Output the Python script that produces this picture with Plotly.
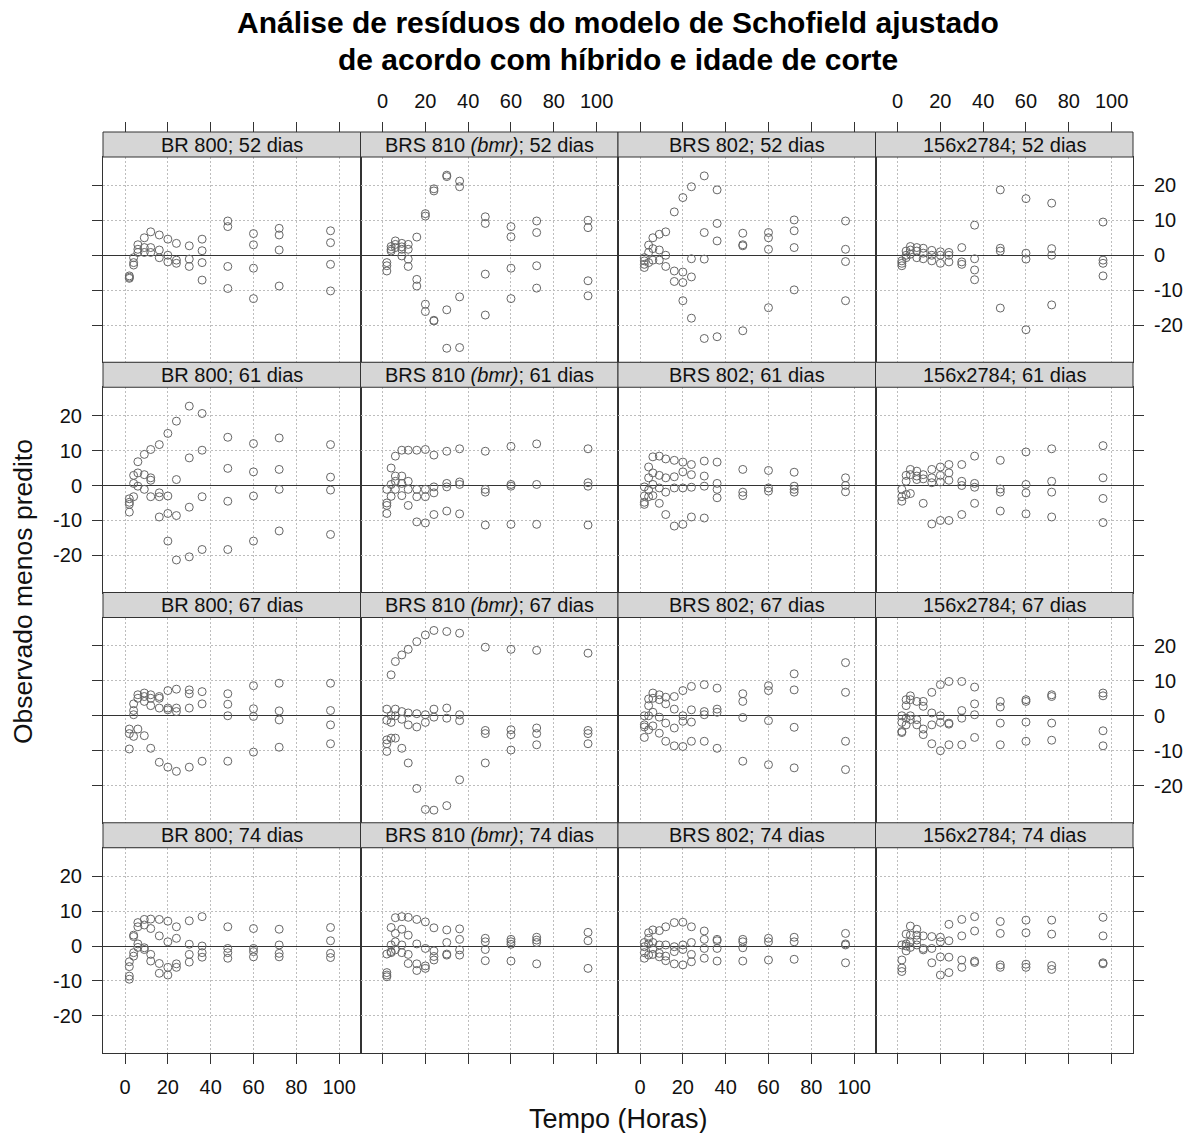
import plotly.graph_objects as go

# ---------------- data ----------------
times = [2, 4, 6, 9, 12, 16, 20, 24, 30, 36, 48, 60, 72, 96]
hybrids = ["BR 800", "BRS 810 <i>(bmr)</i>", "BRS 802", "156x2784"]
ages = [52, 61, 67, 74]
x_ticks = [0, 20, 40, 60, 80, 100]
y_ticks = [-20, -10, 0, 10, 20]

# residuals per time (one inner list per time in `times`)
br800_52 = [[-5.9, -6.3, -6.6], [-0.7, -2.1, -2.8], [3.0, 1.7, 0.8], [5.0, 2.2, 0.8],
            [6.7, 2.2, 0.8], [5.8, 1.5, -0.7], [4.6, 0.0, -1.9], [3.4, -1.4, -2.3],
            [2.7, -1.1, -3.2], [4.6, 1.3, -2.1, -7.1], [9.8, 8.2, -3.2, -9.5],
            [6.2, 3.0, -3.7, -12.4], [7.7, 5.8, 1.5, -8.8], [7.0, 3.6, -2.6, -10.2]]
brs810_52 = [[-2.1, -3.0, -4.5], [2.5, 1.7, 1.2], [4.1, 3.1, 2.2], [3.4, 2.4, 1.7, -0.2],
             [3.1, 1.7, -1.1, -3.2], [5.2, -6.9, -8.8], [11.9, 11.2, -14.0, -16.1],
             [19.0, 18.4, -18.6, -18.8], [22.9, 22.5, -15.6, -26.6], [21.2, 19.6, -11.9, -26.4],
             [11.0, 9.1, -5.4, -17.1], [8.2, 5.3, -3.7, -12.4], [9.8, 6.5, -3.0, -9.4],
             [10.0, 7.9, -7.3, -11.6]]
brs802_52 = [[-0.7, -1.6, -2.6, -3.5], [2.9, 0.8, -2.1], [5.0, 1.9, -1.4], [6.0, 1.5, -1.4],
             [6.7, 0.0, -3.2], [12.4, -4.5, -7.5], [16.5, -4.8, -7.8, -13.0],
             [19.6, -1.0, -6.2, -18.0], [22.7, 6.5, -1.1, -23.8], [18.7, 9.1, 4.1, -23.3],
             [6.3, 3.0, 2.7, -21.6], [6.5, 5.0, 1.7, -15.0], [10.1, 7.0, 2.2, -9.9],
             [9.8, 1.7, -1.8, -13.0]]
h156_52 = [[-1.6, -2.3, -3.0], [1.2, 0.0, -0.7], [2.5, 1.5, 0.3], [2.2, 1.2, -0.7],
           [2.0, 0.6, -1.0], [1.4, 0.0, -1.6], [1.0, 0.0, -2.3], [0.8, 0.0, -1.9],
           [2.2, -1.9, -2.6], [8.6, -1.0, -4.2, -7.0], [18.7, 2.0, 1.2, -15.1],
           [16.2, 0.6, -1.1, -21.3], [14.9, 1.9, 0.0, -14.2], [9.5, -1.4, -2.3, -5.9]]

br800_61 = [[-3.8, -4.8, -5.4, -7.6], [2.9, 0.6, -3.2], [6.8, 3.6, -0.2], [8.9, 3.1, -1.1],
            [10.3, 2.2, 1.5, -3.2], [11.7, -2.1, -3.2, -9.0], [14.9, -3.0, -8.0, -15.9],
            [18.4, 1.7, -8.6, -21.3], [22.7, 7.9, -6.2, -20.4], [20.6, 10.1, -3.2, -18.3],
            [13.8, 4.9, -4.5, -18.3], [12.0, 3.9, -3.0, -15.9], [13.6, 4.6, -1.1, -13.0],
            [11.7, 2.4, -1.3, -14.0]]
brs810_61 = [[-1.1, -5.0, -5.7, -8.0], [5.0, 0.3, -3.1], [8.4, 2.7, 1.2, -1.1],
             [10.1, 2.7, 0.6, -2.9], [10.1, 1.2, -1.1, -5.7], [10.1, -1.1, -3.2, -10.4],
             [10.3, -1.1, -3.2, -10.7], [8.7, -0.4, -2.1, -8.3], [9.8, 0.6, -0.4, -7.3],
             [10.5, 1.0, 0.3, -8.1], [9.8, -1.1, -1.9, -11.3], [11.2, 0.3, -0.2, -11.1],
             [11.9, 0.3, -11.1], [10.5, 0.8, -0.2, -11.3]]
brs802_61 = [[-0.4, -3.0, -4.8, -5.4], [5.3, 2.2, -1.3, -3.2], [8.2, 3.6, 0.3, -2.9],
             [8.4, 2.9, -0.7, -5.1], [7.6, 2.2, -1.9, -8.3], [7.2, 2.5, -0.7, -11.6],
             [6.7, 3.9, -0.7, -11.1], [6.0, 3.1, -0.5, -9.0], [7.0, 2.7, -0.2, -9.3],
             [6.7, 0.6, -1.1, -3.5], [4.6, -1.9, -2.9], [4.3, -0.7, -1.6],
             [3.8, -0.2, -1.1, -1.9], [2.2, 0.0, -1.8]]
h156_61 = [[-1.1, -3.2, -4.5], [2.9, 1.2, -2.6], [4.6, 3.1, -2.3], [4.1, 2.7, 1.7],
           [3.1, 1.9, -5.1], [4.6, 2.2, 0.8, -11.0], [5.3, 2.9, 1.0, -10.0],
           [6.0, 3.6, 1.5, -10.0], [6.0, 1.2, 0.0, -8.3], [8.4, 0.6, -0.5, -5.1],
           [7.2, -1.0, -1.9, -7.3], [9.6, 0.3, -2.1, -8.1], [10.5, 1.2, -1.9, -9.0],
           [11.4, 2.2, -3.7, -10.6]]

br800_67 = [[-3.8, -5.1, -9.5], [3.4, 1.5, 0.3, -5.9], [6.0, 5.0, -3.8], [6.5, 5.5, 4.1, -5.7],
            [6.0, 5.0, 2.9, -9.3], [5.5, 5.0, 2.2, -13.3], [7.2, 2.2, 1.7, -14.7],
            [7.6, 2.2, 1.2, -15.9], [7.4, 6.3, 2.2, -14.7], [6.9, 3.4, -13.0],
            [6.3, 3.3, 0.0, -13.0], [8.6, 2.0, -0.2, -10.4], [9.3, 1.4, -1.2, -9.0],
            [9.3, 1.5, -2.6, -8.0]]
brs810_67 = [[1.9, -1.3, -6.9, -8.0, -10.2], [11.7, 0.0, -1.9, -6.4], [15.5, 1.9, 0.0, -6.4],
             [17.4, 1.2, -1.0, -9.3], [19.0, 0.8, -2.6, -13.5], [21.2, 0.6, -3.2, -20.8],
             [23.1, 0.3, -1.9, -26.8], [24.4, 1.9, -0.4, -27.0], [24.1, 2.2, -0.7, -25.7],
             [23.6, 0.3, -1.4, -18.3], [19.6, -4.2, -5.1, -13.5], [19.0, -4.0, -5.4, -9.8],
             [18.7, -3.5, -5.1, -8.3], [17.9, -4.2, -5.1, -8.0]]
brs802_67 = [[0.0, -2.6, -3.2, -6.2], [4.8, 2.9, 0.0, -4.0], [6.5, 5.0, 1.0, -2.9],
             [6.0, 4.6, -0.4, -5.0], [5.3, 3.4, -2.1, -7.3], [5.5, 1.9, -3.5, -8.6],
             [7.2, 0.0, -1.6, -8.8], [8.4, 1.7, -1.8, -7.3], [8.9, 1.2, 0.3, -7.3],
             [7.9, 1.9, 1.0, -9.3], [6.3, 4.1, -0.5, -13.0], [8.6, 7.2, -1.4, -14.0],
             [12.0, 7.4, -3.3, -14.9], [15.2, 6.7, -7.3, -15.4]]
h156_67 = [[0.0, -1.9, -4.5, -4.8], [4.6, 2.9, -0.7, -2.6], [5.7, 4.6, 0.0, -1.1],
           [4.1, -1.1, -2.6], [4.1, 2.7, -3.8, -5.4], [6.7, 0.8, -2.6, -8.0],
           [8.9, 0.0, -1.9, -10.0], [9.8, -2.1, -2.4, -8.3], [9.8, 1.5, -0.7, -8.3],
           [8.2, 3.4, 0.3, -6.2], [4.1, 2.5, -2.1, -8.3], [4.6, 4.1, -1.8, -7.3],
           [6.0, 5.5, -2.1, -7.0], [6.5, 5.7, -4.3, -8.6]]

br800_74 = [[-4.5, -5.9, -8.6, -9.5], [3.1, 2.7, -1.9, -2.9], [6.7, 5.5, 0.6, -0.4],
            [7.6, 6.0, -0.5, -1.0], [7.7, 5.0, -2.4, -4.3], [7.6, 2.9, -5.0, -7.8],
            [7.1, 1.2, -6.1, -8.3], [5.5, 2.2, -5.1, -6.1], [7.2, 0.5, -2.4, -4.6],
            [8.4, 0.0, -1.9, -3.2], [5.5, -0.7, -1.9, -3.5], [5.0, -0.7, -1.6, -3.1],
            [4.8, 0.3, -2.1, -3.1], [5.3, 1.5, -2.1, -3.3]]
brs810_74 = [[-2.3, -7.6, -8.3, -8.8], [5.3, 0.3, -1.6, -1.9], [8.1, 3.6, 1.2, -1.1],
             [8.4, 4.8, 0.3, -1.9], [8.2, 3.1, -2.4, -5.0], [7.6, 0.6, -5.1, -7.0],
             [6.9, -0.7, -5.7, -6.4], [5.2, -1.4, -3.0, -4.0], [4.6, 1.0, -2.3, -2.6],
             [4.9, 1.9, -1.1, -2.6], [2.2, 1.2, -1.0, -4.2], [1.9, 1.2, 0.5, -4.3],
             [2.5, 1.7, 1.0, -5.1], [3.9, 1.5, -6.4]]
brs802_74 = [[1.0, -0.2, -1.9, -3.5], [3.8, 2.2, 0.6, -2.6], [4.6, 1.0, -0.7, -2.4],
             [4.4, 0.3, -2.1, -3.1], [5.5, 0.3, -2.9, -4.2], [6.7, -0.2, -1.6, -5.1],
             [6.8, 0.3, -1.0, -5.4], [5.5, 1.0, -2.4, -4.5], [4.3, 1.9, -0.7, -3.5],
             [1.9, 1.5, -0.7, -4.3], [1.9, 1.2, -0.5, -4.3], [2.2, 1.2, -4.0],
             [2.5, 1.2, -3.8], [3.6, 0.6, 0.3, -4.8]]
h156_74 = [[0.3, -4.0, -6.3, -7.3], [3.4, 0.6, 0.0, -1.4], [5.7, 3.1, 1.2, -0.4],
           [4.8, 3.1, 1.7, 0.3], [2.9, -0.7, -1.1], [2.7, -0.7, -4.8],
           [2.5, 1.2, -3.1, -8.3], [6.2, 1.5, -3.2, -7.6], [7.6, 2.9, -4.0, -6.1],
           [8.4, 4.3, -4.3, -4.7], [7.0, 3.6, -5.4, -6.1], [7.4, 3.8, -5.2, -6.1],
           [7.4, 3.4, -5.6, -6.7], [8.2, 2.9, -4.8, -5.1]]

panel_data = [
    [br800_52, brs810_52, brs802_52, h156_52],
    [br800_61, brs810_61, brs802_61, h156_61],
    [br800_67, brs810_67, brs802_67, h156_67],
    [br800_74, brs810_74, brs802_74, h156_74],
]

# ---------------- layout geometry ----------------
W, H = 1196, 1133
ML, MR, MT, MB = 103, 63, 132, 80
PH = H - MT - MB
STRIP = 25 / PH
XR = [-10.3, 110.0]
YR = [-30.6, 28.1]
FONT = "Arial, Liberation Sans, Helvetica, sans-serif"
LINE = "#333333"
GRID = "#bdbdbd"
GRIDDASH = "2px,2px"
PT = "#666666"

def ypaper(px):
    return (H - MB - px) / PH

fig = go.Figure()
layout = {}
shapes = []
annotations = []

for r in range(4):
    row_top = 1 - r * 0.25
    row_bot = 1 - (r + 1) * 0.25
    for c in range(4):
        k = r * 4 + c + 1
        xn = "x" if k == 1 else f"x{k}"
        yn = "y" if k == 1 else f"y{k}"
        xs, ys = [], []
        for t, vals in zip(times, panel_data[r][c]):
            for v in vals:
                xs.append(t)
                ys.append(v)
        fig.add_trace(go.Scatter(
            x=xs, y=ys, mode="markers", xaxis=xn, yaxis=yn, showlegend=False,
            marker=dict(symbol="circle-open", size=8, color=PT, line=dict(width=1, color=PT)),
        ))
        xkey = "xaxis" if k == 1 else f"xaxis{k}"
        ykey = "yaxis" if k == 1 else f"yaxis{k}"
        layout[xkey] = dict(
            domain=[c / 4, (c + 1) / 4], anchor=yn, range=XR, tickmode="array",
            tickvals=x_ticks, ticktext=[str(v) for v in x_ticks],
            showgrid=True, gridcolor=GRID, griddash=GRIDDASH, gridwidth=1,
            zeroline=False, showline=True, mirror=True, linecolor=LINE, linewidth=1,
            ticks="outside" if r == 3 else "", ticklen=10, tickcolor=LINE, tickwidth=1,
            showticklabels=(r == 3 and c in (0, 2)), ticklabelstandoff=6,
            tickfont=dict(family=FONT, size=20, color="#111111"),
        )
        layout[ykey] = dict(
            domain=[row_bot, row_top - STRIP], anchor=xn, range=YR, tickmode="array",
            tickvals=y_ticks, ticktext=[str(v) for v in y_ticks],
            showgrid=True, gridcolor=GRID, griddash=GRIDDASH, gridwidth=1,
            zeroline=True, zerolinecolor=LINE, zerolinewidth=1,
            showline=True, mirror=True, linecolor=LINE, linewidth=1,
            side="right" if c == 3 else "left",
            ticks="outside" if c in (0, 3) else "", ticklen=10, tickcolor=LINE, tickwidth=1,
            showticklabels=(c == 0 and r in (1, 3)) or (c == 3 and r in (0, 2)),
            ticklabelstandoff=6,
            tickfont=dict(family=FONT, size=20, color="#111111"),
        )
        # strip
        shapes.append(dict(type="rect", xref="paper", yref="paper",
                           x0=c / 4, x1=(c + 1) / 4, y0=row_top - STRIP, y1=row_top,
                           fillcolor="#d6d6d6", line=dict(color=LINE, width=1), layer="above"))
        annotations.append(dict(text=f"{hybrids[c]}; {ages[r]} dias", xref="paper", yref="paper",
                                x=(c + 0.5) / 4, y=row_top - STRIP / 2, showarrow=False,
                                xanchor="center", yanchor="middle",
                                font=dict(family=FONT, size=20, color="#111111")))

# top axes (ticks above the top strips)
for c in range(4):
    k = 17 + c
    base = "x" if c == 0 else f"x{c + 1}"
    yb = "y" if c == 0 else f"y{c + 1}"
    layout[f"xaxis{k}"] = dict(
        domain=[c / 4, (c + 1) / 4], overlaying=base, anchor="free", position=1.0,
        side="top", range=XR, tickmode="array", tickvals=x_ticks,
        ticktext=[str(v) for v in x_ticks], showgrid=False, zeroline=False, showline=False,
        ticks="outside", ticklen=10, tickcolor=LINE, tickwidth=1,
        showticklabels=(c in (1, 3)), ticklabelstandoff=6,
        tickfont=dict(family=FONT, size=20, color="#111111"),
    )
    fig.add_trace(go.Scatter(x=[None], y=[None], xaxis=f"x{k}", yaxis=yb,
                             mode="markers", showlegend=False, hoverinfo="skip"))

# titles
annotations.append(dict(text="<b>Análise de resíduos do modelo de Schofield ajustado</b>",
                        xref="paper", yref="paper", x=0.5, y=ypaper(23), showarrow=False,
                        xanchor="center", yanchor="middle",
                        font=dict(family=FONT, size=30, color="#000000")))
annotations.append(dict(text="<b>de acordo com híbrido e idade de corte</b>",
                        xref="paper", yref="paper", x=0.5, y=ypaper(60), showarrow=False,
                        xanchor="center", yanchor="middle",
                        font=dict(family=FONT, size=30, color="#000000")))
annotations.append(dict(text="Tempo (Horas)", xref="paper", yref="paper", x=0.5,
                        y=ypaper(1119), showarrow=False, xanchor="center", yanchor="middle",
                        font=dict(family=FONT, size=27, color="#111111")))
annotations.append(dict(text="Observado menos predito", xref="paper", yref="paper",
                        x=(23 - ML) / (W - ML - MR), y=ypaper(592), showarrow=False,
                        textangle=-90, xanchor="center", yanchor="middle",
                        font=dict(family=FONT, size=26.5, color="#111111")))

fig.update_layout(
    width=W, height=H, margin=dict(l=ML, r=MR, t=MT, b=MB, pad=0),
    paper_bgcolor="white", plot_bgcolor="white",
    shapes=shapes, annotations=annotations, **layout,
)

fig.write_html("out.html", config={"displayModeBar": False})
